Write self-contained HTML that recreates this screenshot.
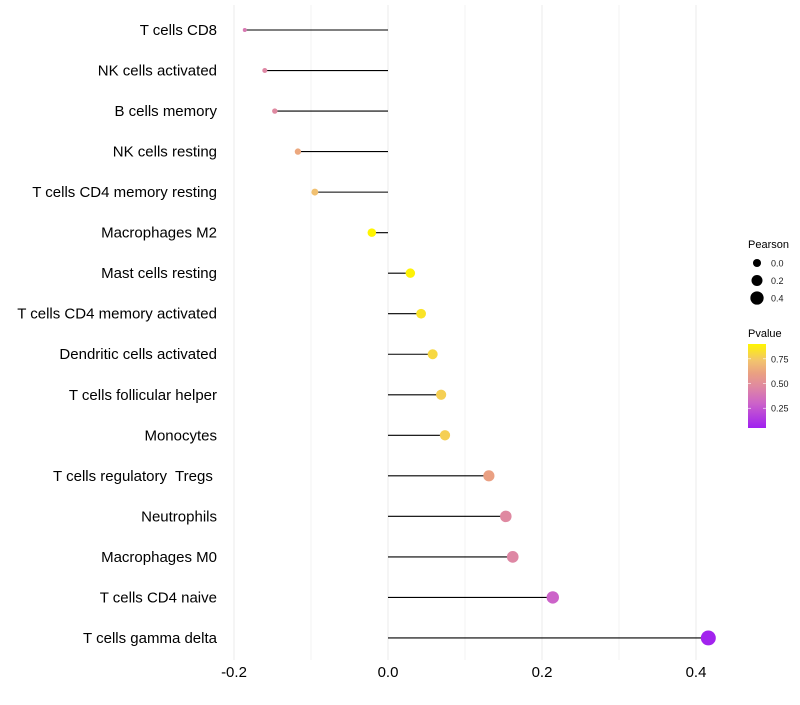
<!DOCTYPE html>
<html><head><meta charset="utf-8"><style>
body{margin:0;background:#fff;}
svg{font-family:"Liberation Sans",sans-serif;}
text{white-space:pre;}
</style></head><body>
<svg id="chart" width="800" height="700"></svg>
<script>
const categories=["T cells CD8","NK cells activated","B cells memory","NK cells resting","T cells CD4 memory resting","Macrophages M2","Mast cells resting","T cells CD4 memory activated","Dendritic cells activated","T cells follicular helper","Monocytes","T cells regulatory  Tregs ","Neutrophils","Macrophages M0","T cells CD4 naive","T cells gamma delta"];
const pearson=[-0.186,-0.160,-0.147,-0.117,-0.095,-0.021,0.029,0.043,0.058,0.069,0.074,0.131,0.153,0.162,0.214,0.416];
const pvalue=[0.40,0.46,0.47,0.63,0.72,0.90,0.89,0.84,0.80,0.77,0.77,0.60,0.47,0.46,0.30,0.06];
const xTicks=[-0.2,0,0.2,0.4];
const xTickLabels=["-0.2","0.0","0.2","0.4"];
const xMinor=[-0.1,0.1,0.3];
const sizeLegend=[0.0,0.2,0.4];
const colorLegend=[0.25,0.50,0.75];

const NS="http://www.w3.org/2000/svg";
const svg=document.getElementById('chart');
function mk(t,a,p){const e=document.createElementNS(NS,t);for(const k in a)e.setAttribute(k,a[k]);(p||svg).appendChild(e);return e;}
const x=v=>388+v*770;
const y=i=>30+i*40.53;
const pMin=0.05,pMax=0.90;
const stops=[[0,[160,32,240]],[0.3,[205,100,200]],[0.5,[224,138,160]],[0.65,[234,160,130]],[0.8,[242,195,110]],[1,[255,245,0]]];
function col(p){let t=Math.max(0,Math.min(1,(p-pMin)/(pMax-pMin)));for(let i=1;i<stops.length;i++){if(t<=stops[i][0]){const a=stops[i-1],b=stops[i];const f=(t-a[0])/(b[0]-a[0]);const c=a[1].map((v,j)=>Math.round(v+(b[1][j]-v)*f));return `rgb(${c})`;}}return 'rgb(255,245,0)';}
const sMin=Math.min(...pearson),sMax=Math.max(...pearson);
const rad=v=>Math.sqrt(4+(v-sMin)/(sMax-sMin)*52);

xTicks.concat(xMinor).forEach(v=>{const g=mk('line',{x1:x(v),x2:x(v),y1:5,y2:660,stroke:'#ebebeb','stroke-width':xMinor.includes(v)?0.6:1});

});

categories.forEach((c,i)=>{
 const t=mk('text',{x:217,y:y(i)+5,'text-anchor':'end','font-size':15,fill:'#000'});t.textContent=c;
 
 
 const l=mk('line',{x1:x(0),x2:x(pearson[i]),y1:y(i),y2:y(i),stroke:'#000','stroke-width':1.1});
 
 
 const d=mk('circle',{cx:x(pearson[i]),cy:y(i),r:rad(pearson[i]),fill:col(pvalue[i])});
 
 
});
xTicks.forEach((v,i)=>{const t=mk('text',{x:x(v),y:677,'text-anchor':'middle','font-size':15,fill:'#000'});t.textContent=xTickLabels[i];

});

const lt=mk('text',{x:748,y:248,'font-size':11,fill:'#000'});lt.textContent='Pearson';


sizeLegend.forEach((v,i)=>{const cyy=263+i*17.5;const c=mk('circle',{cx:757,cy:cyy,r:rad(v)*0.9,fill:'#000'});


const t=mk('text',{x:771,y:cyy+3.5,'font-size':9,fill:'#1a1a1a'});t.textContent=v.toFixed(1);

});

const ct=mk('text',{x:748,y:337,'font-size':11,fill:'#000'});ct.textContent='Pvalue';


const defs=mk('defs',{});const lg=mk('linearGradient',{id:'pg',x1:0,y1:1,x2:0,y2:0},defs);
stops.forEach(s=>mk('stop',{offset:s[0],'stop-color':`rgb(${s[1]})`},lg));
const barTop=344,barBot=428,cbY=p=>barBot-(p-pMin)/(pMax-pMin)*(barBot-barTop);
const bar=mk('rect',{x:748,y:barTop,width:18,height:barBot-barTop,fill:'url(#pg)'});


colorLegend.forEach(v=>{mk('line',{x1:748,x2:751,y1:cbY(v),y2:cbY(v),stroke:'#fff','stroke-width':0.6});mk('line',{x1:763,x2:766,y1:cbY(v),y2:cbY(v),stroke:'#fff','stroke-width':0.6});
const t=mk('text',{x:771,y:cbY(v)+3.5,'font-size':9,fill:'#1a1a1a'});t.textContent=v.toFixed(2);

});
</script>
</body></html>
